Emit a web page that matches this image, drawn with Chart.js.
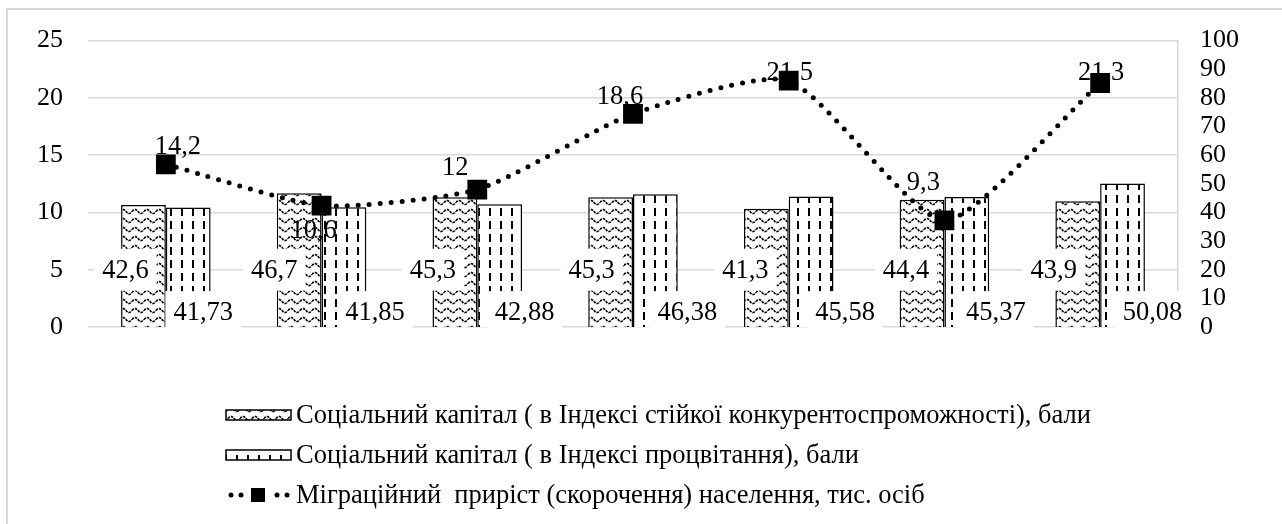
<!DOCTYPE html>
<html>
<head>
<meta charset="utf-8">
<script src="https://cdn.jsdelivr.net/npm/chart.js@4"></script>
<style>
  body { margin: 0; background: #fff; font-family: "Liberation Serif", "DejaVu Serif", serif; }
  canvas { display: block; }
  .probe { position: absolute; left: -9999px; top: 0; font-family: "Liberation Serif"; }
</style>
</head>
<body>
<div class="probe">Соціальний 0123456789</div>
<canvas id="chart" width="1282" height="524"></canvas>
<script>
const categories = ['1', '2', '3', '4', '5', '6', '7'];
const sustainIndex = [42.6, 46.7, 45.3, 45.3, 41.3, 44.4, 43.9];
const prosperityIndex = [41.73, 41.85, 42.88, 46.38, 45.58, 45.37, 50.08];
const migration = [14.2, 10.6, 12, 18.6, 21.5, 9.3, 21.3];
const seriesNames = [
  'Соціальний капітал ( в Індексі стійкої конкурентоспроможності), бали',
  'Соціальний капітал ( в Індексі процвітання), бали',
  'Міграційний  приріст (скорочення) населення, тис. осіб'
];

// manual label nudges (pixels), the way they sit in the original
const sustainLabelDx = [-18, -25, -22, -19, -21, -16, -24];
const prosperityLabelDx = [15, 31, 25, 32, 34, 29, 30];
const migrationLabelOffset = [[12, -18], [-8, 24], [-22, -22], [-13, -18], [1, -9], [-21, -38], [1, -11]];

const FONT = '"Liberation Serif", "DejaVu Serif", serif';
const fmt = (v) => String(v).replace('.', ',');

const makeWavePattern = () => {
  const c = document.createElement('canvas');
  c.width = 12; c.height = 9;
  const g = c.getContext('2d');
  g.fillStyle = '#fff';
  g.fillRect(0, 0, 12, 9);
  g.strokeStyle = '#000';
  g.lineWidth = 1.7;
  g.setLineDash([2.5, 1]);
  g.beginPath();
  for (let x = 0; x <= 12; x += 0.5) {
    const y = 4.5 - 2 * Math.sin(x / 12 * Math.PI * 2);
    if (x === 0) g.moveTo(x, y); else g.lineTo(x, y);
  }
  g.stroke();
  return g.createPattern(c, 'repeat');
};

const makeDashPattern = () => {
  const c = document.createElement('canvas');
  c.width = 11; c.height = 13;
  const g = c.getContext('2d');
  g.fillStyle = '#fff';
  g.fillRect(0, 0, 11, 13);
  g.fillStyle = '#000';
  g.fillRect(5, 0, 2, 8);
  return g.createPattern(c, 'repeat');
};

const drawBoxedLabel = (ctx, text, cx, cy) => {
  ctx.font = `26.5px ${FONT}`;
  const w = ctx.measureText(text).width;
  ctx.fillStyle = '#fff';
  ctx.fillRect(cx - w / 2 - 8, cy - 21, w + 16, 42);
  ctx.fillStyle = '#000';
  ctx.fillText(text, cx, cy + 1);
};

const buildChart = () => {
  const wave = makeWavePattern();
  const dashes = makeDashPattern();

  const labelsPlugin = {
    id: 'labels',
    beforeDatasetDraw(chart, args) {
      if (args.index !== 2) return;
      const ctx = chart.ctx;
      const yScale = chart.scales.y;
      ctx.save();
      ctx.textAlign = 'center';
      ctx.textBaseline = 'middle';

      chart.getDatasetMeta(0).data.forEach((bar, i) => {
        drawBoxedLabel(ctx, fmt(sustainIndex[i]), bar.x + sustainLabelDx[i], yScale.getPixelForValue(5));
      });
      chart.getDatasetMeta(1).data.forEach((bar, i) => {
        drawBoxedLabel(ctx, fmt(prosperityIndex[i]), bar.x + prosperityLabelDx[i], yScale.getPixelForValue(1.3));
      });

      ctx.font = `26.5px ${FONT}`;
      ctx.fillStyle = '#000';
      chart.getDatasetMeta(2).data.forEach((pt, i) => {
        const [dx, dy] = migrationLabelOffset[i];
        ctx.fillText(fmt(migration[i]), pt.x + dx, pt.y + dy + 1);
      });
      ctx.restore();
    }
  };

  const frameAndLegendPlugin = {
    id: 'frameAndLegend',
    beforeDraw(chart) {
      const ctx = chart.ctx;
      ctx.save();
      ctx.fillStyle = '#fff';
      ctx.fillRect(0, 0, chart.width, chart.height);
      ctx.strokeStyle = '#d9d9d9';
      ctx.lineWidth = 2;
      ctx.strokeRect(7, 9, chart.width + 20, chart.height + 20);
      ctx.restore();
    },
    afterDraw(chart) {
      const ctx = chart.ctx;
      const x0 = 226, x1 = 291, textX = 296;
      const rows = [415, 455, 495];
      ctx.save();
      ctx.font = `26.5px ${FONT}`;
      ctx.textBaseline = 'middle';

      [wave, dashes].forEach((pat, i) => {
        const y = rows[i];
        ctx.fillStyle = pat;
        ctx.fillRect(x0, y - 5, x1 - x0, 10);
        ctx.strokeStyle = '#000';
        ctx.lineWidth = 1.5;
        ctx.strokeRect(x0, y - 5, x1 - x0, 10);
      });

      // line series swatch: dots, square, dots
      const ly = rows[2];
      ctx.fillStyle = '#000';
      [231, 241, 277, 287].forEach((dx) => {
        ctx.beginPath();
        ctx.arc(dx, ly, 2.5, 0, Math.PI * 2);
        ctx.fill();
      });
      ctx.fillRect(251, ly - 7, 14, 14);

      seriesNames.forEach((name, i) => {
        ctx.fillStyle = '#000';
        ctx.fillText(name, textX, rows[i] + 1);
      });
      ctx.restore();
    }
  };

  const tickFont = { family: FONT, size: 26 };

  new Chart(document.getElementById('chart'), {
    type: 'bar',
    data: {
      labels: categories,
      datasets: [
        {
          label: seriesNames[0],
          data: sustainIndex,
          yAxisID: 'y1',
          backgroundColor: wave,
          borderColor: '#000',
          borderWidth: 1.5,
          categoryPercentage: 0.575,
          barPercentage: 1,
          order: 1
        },
        {
          label: seriesNames[1],
          data: prosperityIndex,
          yAxisID: 'y1',
          backgroundColor: dashes,
          borderColor: '#000',
          borderWidth: 1.5,
          categoryPercentage: 0.575,
          barPercentage: 1,
          order: 1
        },
        {
          type: 'line',
          label: seriesNames[2],
          data: migration,
          yAxisID: 'y',
          borderColor: '#000',
          borderWidth: 5,
          borderDash: [0, 11],
          borderCapStyle: 'round',
          tension: 0.2,
          pointStyle: 'rect',
          pointRadius: 14,
          pointBackgroundColor: '#000',
          pointBorderColor: '#000',
          pointBorderWidth: 0,
          order: 0
        }
      ]
    },
    options: {
      responsive: false,
      animation: false,
      events: [],
      layout: { padding: { top: 30, bottom: 197, left: 0, right: 0 } },
      plugins: {
        legend: { display: false },
        tooltip: { enabled: false }
      },
      scales: {
        x: { display: false },
        y: {
          position: 'left',
          min: 0,
          max: 25,
          ticks: { stepSize: 5, color: '#000', font: tickFont, padding: 25 },
          grid: { color: '#d9d9d9', lineWidth: 1.5, drawTicks: false },
          border: { display: false },
          afterFit: (scale) => { scale.width = 88; }
        },
        y1: {
          position: 'right',
          min: 0,
          max: 100,
          ticks: { stepSize: 10, color: '#000', font: tickFont, padding: 22, autoSkip: false },
          grid: { display: false, drawTicks: false },
          border: { display: true, color: '#d9d9d9', width: 1.5 },
          afterFit: (scale) => { scale.width = 104; }
        }
      }
    },
    plugins: [frameAndLegendPlugin, labelsPlugin]
  });
};

document.fonts.load(`26px "Liberation Serif"`, 'Соціальний 0123')
  .catch(() => null)
  .then(() => buildChart());
</script>
</body>
</html>
